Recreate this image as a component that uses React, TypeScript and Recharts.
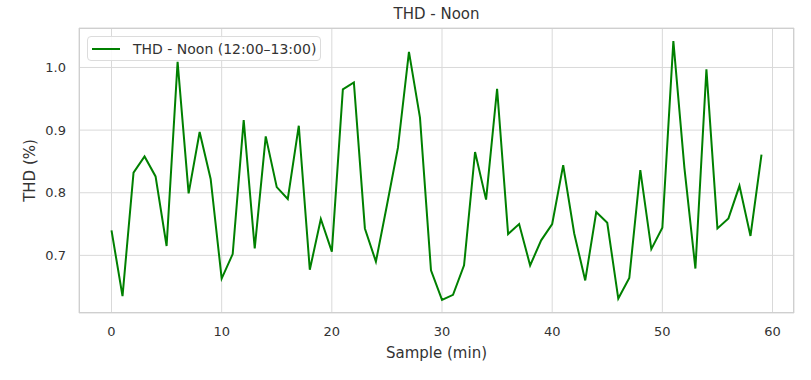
import { LineChart, Line, XAxis, YAxis, CartesianGrid } from 'recharts'

const minutes = [
  0, 1, 2, 3, 4, 5, 6, 7, 8, 9, 10, 11, 12, 13, 14, 15, 16, 17, 18, 19,
  20, 21, 22, 23, 24, 25, 26, 27, 28, 29, 30, 31, 32, 33, 34, 35, 36, 37, 38, 39,
  40, 41, 42, 43, 44, 45, 46, 47, 48, 49, 50, 51, 52, 53, 54, 55, 56, 57, 58, 59,
]
const thdNoon = [
  0.740, 0.635, 0.832, 0.858, 0.826, 0.715, 1.009, 0.799, 0.897, 0.822,
  0.663, 0.702, 0.916, 0.711, 0.890, 0.809, 0.790, 0.907, 0.677, 0.758,
  0.706, 0.965, 0.976, 0.743, 0.690, 0.780, 0.872, 1.025, 0.920, 0.676,
  0.629, 0.637, 0.684, 0.865, 0.789, 0.966, 0.734, 0.750, 0.684, 0.724,
  0.750, 0.844, 0.735, 0.660, 0.769, 0.752, 0.631, 0.664, 0.836, 0.710,
  0.744, 1.042, 0.840, 0.679, 0.997, 0.743, 0.759, 0.811, 0.731, 0.861,
]
const xTicks = [0, 10, 20, 30, 40, 50, 60]
const yTicks = [0.7, 0.8, 0.9, 1.0]

const seriesName = 'THD - Noon (12:00–13:00)'
const font = "'DejaVu Sans', sans-serif"
const textColor = '#333'
const gridColor = '#d9d9d9'

const data = minutes.map((m, i) => ({ minute: m, thd: thdNoon[i] }))

export default function App() {
  return (
    <div style={{ position: 'absolute', left: 0, top: 0, width: 811, height: 380, background: '#fff' }}>
      <div style={{
        position: 'absolute', left: 79, top: 5, width: 715, textAlign: 'center',
        fontFamily: font, fontSize: 15, lineHeight: '18px', color: textColor,
      }}>
        THD - Noon
      </div>
      <LineChart width={811} height={380} data={data} margin={{ top: 28, right: 17, bottom: 0, left: 0 }}>
        <CartesianGrid stroke={gridColor} strokeWidth={1} />
        <XAxis
          dataKey="minute" type="number" domain={[-2.95, 61.95]} ticks={xTicks}
          height={67} tickSize={0} tickMargin={14} axisLine={false}
          tick={{ fontSize: 13, fill: textColor, fontFamily: font }}
          label={{ value: 'Sample (min)', position: 'insideBottom', offset: 22, fontSize: 15, fill: textColor, fontFamily: font }}
        />
        <YAxis
          type="number" domain={[0.608, 1.063]} ticks={yTicks} width={79}
          tickSize={0} tickMargin={13} axisLine={false}
          tickFormatter={(v: number) => v.toFixed(1)}
          tick={{ fontSize: 13, fill: textColor, fontFamily: font }}
          label={{ value: 'THD (%)', angle: -90, position: 'insideLeft', offset: 30, fontSize: 15, fill: textColor, fontFamily: font, style: { textAnchor: 'middle' } }}
        />
        <Line
          type="linear" dataKey="thd" name={seriesName} stroke="green" strokeWidth={2}
          dot={false} isAnimationActive={false}
        />
      </LineChart>
      <div style={{
        position: 'absolute', left: 79, top: 28, width: 715, height: 285,
        border: '1px solid #cfcfcf', boxSizing: 'border-box', pointerEvents: 'none',
      }} />
      <div style={{
        position: 'absolute', left: 87, top: 36, width: 234, height: 25, boxSizing: 'border-box',
        border: '1px solid #dcdcdc', borderRadius: 4, background: 'rgba(255,255,255,0.85)',
        display: 'flex', alignItems: 'center', fontFamily: font, fontSize: 14, color: textColor,
      }}>
        <span style={{ display: 'inline-block', width: 28, height: 2, background: 'green', marginLeft: 4, marginRight: 13 }} />
        <span>{seriesName}</span>
      </div>
    </div>
  )
}
